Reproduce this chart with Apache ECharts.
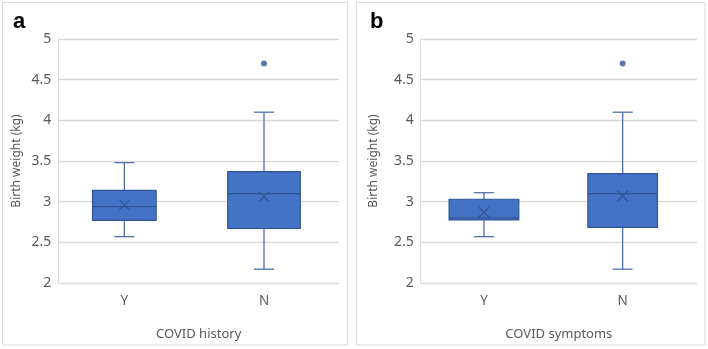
<!DOCTYPE html>
<html>
<head>
<meta charset="utf-8">
<script src="https://cdn.jsdelivr.net/npm/echarts@6/dist/echarts.min.js"></script>
<style>
html,body{margin:0;padding:0;background:#fff;}
#c{width:708px;height:349px;}
</style>
</head>
<body>
<div id="c"></div>
<script>
// ---- data ----
var categories = ['Y', 'N'];
var yTicks = [2, 2.5, 3, 3.5, 4, 4.5, 5];

// Panel a: COVID history
var aMin    = [2.57, 2.17];
var aQ1     = [2.77, 2.67];
var aMedian = [2.94, 3.10];
var aQ3     = [3.14, 3.37];
var aMax    = [3.48, 4.10];
var aMean   = [2.96, 3.06];
var aOutliers = [['N', 4.70]];

// Panel b: COVID symptoms
var bMin    = [2.57, 2.17];
var bQ1     = [2.775, 2.685];
var bMedian = [2.80, 3.10];
var bQ3     = [3.03, 3.345];
var bMax    = [3.11, 4.10];
var bMean   = [2.87, 3.07];
var bOutliers = [['N', 4.70]];

var panelTitles = ['a', 'b'];
var xNames = ['COVID history', 'COVID symptoms'];
var yName = 'Birth weight (kg)';

// ---- styles ----
var boxWidthsA = [63.6, 72.6];
var boxWidthsB = [69.7, 69.6];
var capWidth = 20;
var FILL = '#4472C4', EDGE = '#2F5597', WHISK = '#4F6FAE';
var TXT = '#595959', GRID = '#D9D9D9';
var FONT = '"Noto Sans", "Open Sans", sans-serif';

function catPos(c) { return categories.indexOf(c) + 1; }

function buildBoxData(mn, q1, md, q3, mx, mean) {
  return categories.map(function (c, i) {
    return [i + 1, mn[i], q1[i], md[i], q3[i], mx[i], mean[i]];
  });
}

function makeRender(widths) {
  return function (params, api) {
    var i = params.dataIndex;
    var x = api.value(0);
    var pMin = api.coord([x, api.value(1)]);
    var pQ1 = api.coord([x, api.value(2)]);
    var pMed = api.coord([x, api.value(3)]);
    var pQ3 = api.coord([x, api.value(4)]);
    var pMax = api.coord([x, api.value(5)]);
    var pMean = api.coord([x, api.value(6)]);
    var cx = pMed[0];
    var hw = widths[i] / 2;
    var hc = capWidth / 2;
    var m = 5;
    var lineW = { stroke: WHISK, lineWidth: 1.3 };
    return {
      type: 'group',
      children: [
        { type: 'line', shape: { x1: cx, y1: pMax[1], x2: cx, y2: pQ3[1] }, style: lineW },
        { type: 'line', shape: { x1: cx, y1: pQ1[1], x2: cx, y2: pMin[1] }, style: lineW },
        { type: 'line', shape: { x1: cx - hc, y1: pMax[1], x2: cx + hc, y2: pMax[1] }, style: lineW },
        { type: 'line', shape: { x1: cx - hc, y1: pMin[1], x2: cx + hc, y2: pMin[1] }, style: lineW },
        { type: 'rect', shape: { x: cx - hw, y: pQ3[1], width: 2 * hw, height: pQ1[1] - pQ3[1] },
          style: { fill: FILL, stroke: EDGE, lineWidth: 1.2 } },
        { type: 'line', shape: { x1: cx - hw, y1: pMed[1], x2: cx + hw, y2: pMed[1] },
          style: { stroke: EDGE, lineWidth: 1.3 } },
        { type: 'line', shape: { x1: cx - m, y1: pMean[1] - m, x2: cx + m, y2: pMean[1] + m },
          style: { stroke: EDGE, lineWidth: 1.2 } },
        { type: 'line', shape: { x1: cx - m, y1: pMean[1] + m, x2: cx + m, y2: pMean[1] - m },
          style: { stroke: EDGE, lineWidth: 1.2 } }
      ]
    };
  };
}

var grids = [
  { left: 58.3, top: 39, width: 280.7, height: 244 },
  { left: 420.7, top: 39, width: 276.3, height: 244 }
];
var xRanges = [[0.527, 2.537], [0.544, 2.536]];
var nameGaps = [36, 41];

function xAxisFor(k) {
  return {
    type: 'value', gridIndex: k, min: xRanges[k][0], max: xRanges[k][1],
    axisLine: { show: false }, axisTick: { show: false }, splitLine: { show: false },
    axisLabel: {
      customValues: categories.map(function (c, i) { return i + 1; }),
      formatter: function (v) { return categories[Math.round(v) - 1]; },
      color: TXT, fontSize: 13.5, fontFamily: FONT, margin: 11
    },
    name: xNames[k], nameLocation: 'middle', nameGap: 45,
    nameTextStyle: { color: TXT, fontSize: 13, fontFamily: FONT }
  };
}
function yAxisFor(k) {
  return {
    type: 'value', gridIndex: k, min: yTicks[0], max: yTicks[yTicks.length - 1], interval: 0.5,
    axisLine: { show: true, lineStyle: { color: GRID, width: 1 } },
    axisTick: { show: false },
    splitLine: { show: true, lineStyle: { color: GRID, width: 1.3 } },
    axisLabel: { color: TXT, fontSize: 14, fontFamily: FONT, margin: 7 },
    name: yName, nameLocation: 'middle', nameGap: nameGaps[k],
    nameTextStyle: { color: TXT, fontSize: 12, fontFamily: FONT }
  };
}

var chart = echarts.init(document.getElementById('c'), null, { renderer: 'canvas' });
chart.setOption({
  animation: false,
  backgroundColor: '#fff',
  title: [
    { text: panelTitles[0], left: 8, top: 6, textStyle: { fontSize: 22, fontWeight: 'bold', color: '#000', fontFamily: 'Liberation Sans, Arial, sans-serif' } },
    { text: panelTitles[1], left: 365, top: 6, textStyle: { fontSize: 22, fontWeight: 'bold', color: '#000', fontFamily: 'Liberation Sans, Arial, sans-serif' } }
  ],
  graphic: [
    { type: 'rect', shape: { x: 2.5, y: 2.5, width: 345, height: 342.5 }, style: { fill: null, stroke: GRID, lineWidth: 1 }, z: -1 },
    { type: 'rect', shape: { x: 356.5, y: 2.5, width: 348.5, height: 342.5 }, style: { fill: null, stroke: GRID, lineWidth: 1 }, z: -1 }
  ],
  grid: grids,
  xAxis: [xAxisFor(0), xAxisFor(1)],
  yAxis: [yAxisFor(0), yAxisFor(1)],
  series: [
    { type: 'custom', xAxisIndex: 0, yAxisIndex: 0, renderItem: makeRender(boxWidthsA),
      encode: { x: 0, y: [1, 2, 3, 4, 5, 6] },
      data: buildBoxData(aMin, aQ1, aMedian, aQ3, aMax, aMean) },
    { type: 'custom', xAxisIndex: 1, yAxisIndex: 1, renderItem: makeRender(boxWidthsB),
      encode: { x: 0, y: [1, 2, 3, 4, 5, 6] },
      data: buildBoxData(bMin, bQ1, bMedian, bQ3, bMax, bMean) },
    { type: 'scatter', xAxisIndex: 0, yAxisIndex: 0, symbolSize: 6,
      itemStyle: { color: '#2F5597' },
      data: aOutliers.map(function (o) { return [catPos(o[0]), o[1]]; }) },
    { type: 'scatter', xAxisIndex: 1, yAxisIndex: 1, symbolSize: 6,
      itemStyle: { color: '#2F5597' },
      data: bOutliers.map(function (o) { return [catPos(o[0]), o[1]]; }) }
  ]
});
</script>
</body>
</html>
